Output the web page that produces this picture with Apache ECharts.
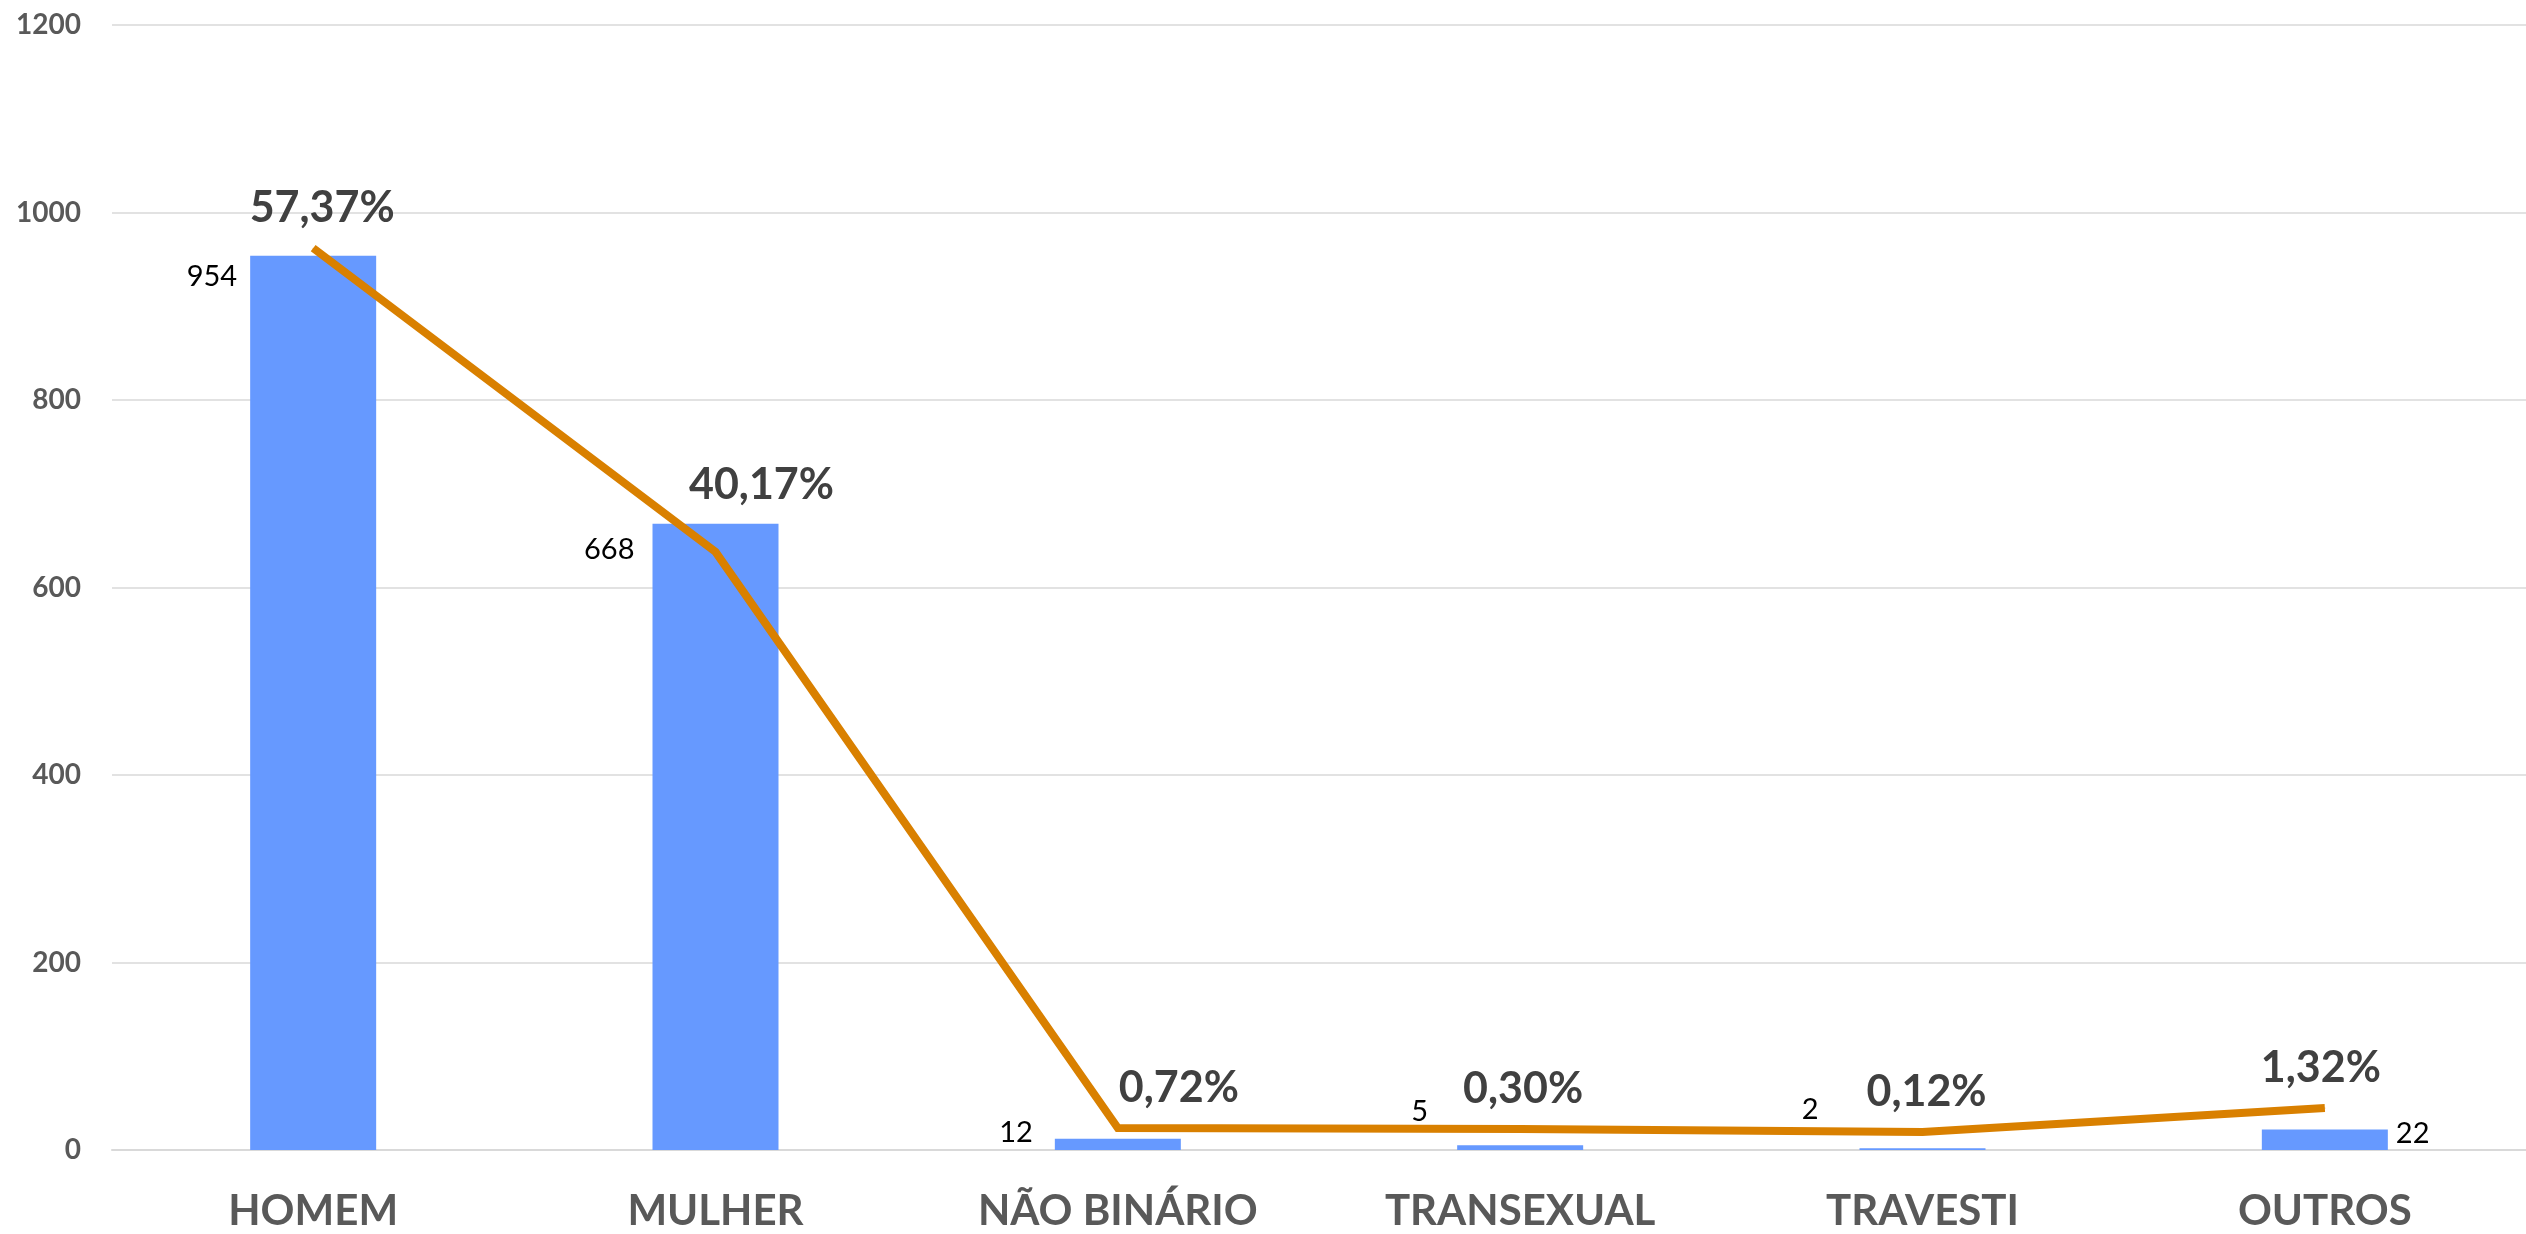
<!DOCTYPE html>
<html>
<head>
<meta charset="utf-8">
<script src="https://cdn.jsdelivr.net/npm/echarts@6/dist/echarts.min.js"></script>
<style>
html,body{margin:0;padding:0;background:#fff;}
#chart{width:2526px;height:1234px;}
</style>
</head>
<body>
<div id="chart"></div>
<script>
// ---- data ----
const categories = ['HOMEM', 'MULHER', 'NÃO BINÁRIO', 'TRANSEXUAL', 'TRAVESTI', 'OUTROS'];
const counts = [954, 668, 12, 5, 2, 22];
const percentLabels = ['57,37%', '40,17%', '0,72%', '0,30%', '0,12%', '1,32%'];
// line vertex heights (in left-axis units)
const lineValues = [962, 638, 23.5, 22.4, 19.2, 44.8];
const yTicks = [0, 200, 400, 600, 800, 1000, 1200];

// ---- per-item label placement (styling only) ----
const countLabelPos = [[-13, 21, 'right'], [-18, 26, 'right'], [-22, -6, 'right'], [-29, -34, 'right'], [-41, -38, 'right'], [134, 4, 'left']];
const pctLabelOffset = [[9, 0], [46, -27], [61, 0], [3, 0], [4, 0], [-4, 0]];

const chart = echarts.init(document.getElementById('chart'), null, {renderer: 'canvas'});

const barData = counts.map((v, i) => ({
  value: v,
  label: {
    position: [countLabelPos[i][0], countLabelPos[i][1]],
    align: countLabelPos[i][2],
    verticalAlign: 'middle'
  }
}));

const lineData = lineValues.map((v, i) => ({
  value: v,
  label: {offset: pctLabelOffset[i]}
}));

chart.setOption({
  backgroundColor: '#ffffff',
  animation: false,
  grid: {left: 112, right: 0, top: 25, bottom: 84, containLabel: false},
  xAxis: {
    type: 'category',
    data: categories,
    axisLine: {show: true, lineStyle: {color: '#D9D9D9', width: 2}},
    axisTick: {show: false},
    axisLabel: {
      color: '#595959', fontFamily: 'Lato', fontWeight: 'bold', fontSize: 42, margin: 40
    }
  },
  yAxis: {
    type: 'value',
    min: yTicks[0],
    max: yTicks[yTicks.length - 1],
    interval: yTicks[1] - yTicks[0],
    axisLine: {show: false},
    axisTick: {show: false},
    splitLine: {lineStyle: {color: '#D9D9D9', width: 1.5}},
    axisLabel: {
      color: '#595959', fontFamily: 'Lato', fontWeight: 'bold', fontSize: 28, margin: 31,
      formatter: v => String(v)
    }
  },
  series: [
    {
      type: 'bar',
      data: barData,
      barWidth: 126,
      itemStyle: {color: '#6699FF'},
      label: {
        show: true,
        color: '#000000',
        fontFamily: 'Lato',
        fontSize: 29
      },
      z: 2
    },
    {
      type: 'line',
      data: lineData,
      symbol: 'circle',
      symbolSize: 1,
      showSymbol: true,
      itemStyle: {color: '#D98000'},
      lineStyle: {color: '#D98000', width: 8, cap: 'butt', join: 'miter'},
      label: {
        show: true,
        position: 'top',
        distance: 18,
        formatter: p => percentLabels[p.dataIndex],
        color: '#404040',
        fontFamily: 'Lato',
        fontWeight: 'bold',
        fontSize: 43
      },
      z: 3
    }
  ]
});
</script>
</body>
</html>
